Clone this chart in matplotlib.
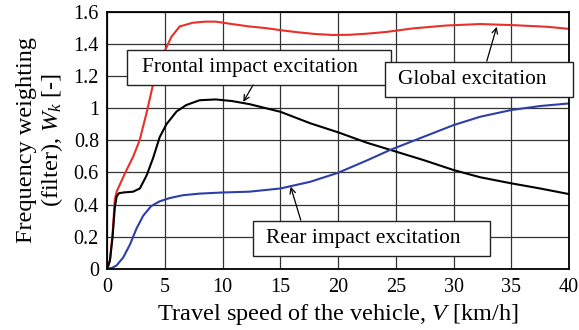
"""Frequency weighting W_k versus travel speed for three excitation cases."""

import matplotlib as mpl
import matplotlib.pyplot as plt
from matplotlib.patches import Rectangle

# values
global_v = [0, 0.23, 0.46, 0.65, 0.81, 1.5, 2.25, 2.8, 3.4, 3.97, 4.4, 5.0, 5.55,
            6.27, 7.4, 8.5, 9.4, 10.8, 12.3, 13.7, 15.2, 16.6, 18.0, 19.5, 21.0,
            22.5, 24.2, 26.5, 29.4, 32.3, 35.2, 38.1, 40]
global_w = [0, 0.054, 0.22, 0.43, 0.48, 0.59, 0.70, 0.80, 0.97, 1.15, 1.26, 1.36,
            1.445, 1.51, 1.533, 1.54, 1.54, 1.525, 1.51, 1.50, 1.485, 1.473, 1.463,
            1.457, 1.458, 1.465, 1.476, 1.498, 1.516, 1.525, 1.518, 1.508, 1.495]

frontal_v = [0, 0.23, 0.46, 0.65, 0.81, 1.0, 1.38, 2.24, 2.82, 3.4, 3.97, 4.54,
             5.12, 6.0, 6.84, 8.0, 9.4, 10.8, 12.3, 15.0, 17.6, 20.0, 22.5, 25.0,
             27.4, 30.0, 32.3, 35.0, 37.5, 40]
frontal_w = [0, 0.05, 0.2, 0.38, 0.45, 0.47, 0.475, 0.48, 0.50, 0.58, 0.69, 0.82,
             0.90, 0.98, 1.02, 1.05, 1.055, 1.045, 1.026, 0.978, 0.906, 0.85, 0.785,
             0.73, 0.677, 0.615, 0.57, 0.532, 0.50, 0.465]

rear_v = [0, 0.4, 0.8, 1.38, 1.96, 2.53, 3.11, 3.8, 4.54, 5.4, 6.55, 8.0, 10.0,
          12.3, 15.0, 17.6, 20.0, 22.5, 24.5, 27.4, 30.0, 32.3, 35.0, 37.5, 40]
rear_w = [0, 0.005, 0.02, 0.07, 0.15, 0.25, 0.33, 0.39, 0.42, 0.44, 0.458, 0.468,
          0.475, 0.48, 0.50, 0.542, 0.598, 0.675, 0.74, 0.822, 0.895, 0.947, 0.989,
          1.014, 1.03]

x_ticks = [0, 5, 10, 15, 20, 25, 30, 35, 40]
y_ticks = [0, 0.2, 0.4, 0.6, 0.8, 1.0, 1.2, 1.4, 1.6]
y_tick_labels = ["0", "0.2", "0.4", "0.6", "0.8", "1", "1.2", "1.4", "1.6"]

RED = "#e8302a"
BLUE = "#2c3fa8"
BOX_FONT = 15.4
LABEL_FONT = 17.5
TICK_FONT = 14.5

mpl.rcParams.update(
    {
        "font.family": "Liberation Serif",
        "mathtext.fontset": "custom",
        "mathtext.rm": "Liberation Serif",
        "mathtext.it": "Liberation Serif:italic",
        "font.size": BOX_FONT,
    }
)

fig = plt.figure(figsize=(5.79, 3.30), dpi=100)
ax = fig.add_axes([0.1853, 0.1858, 0.7974, 0.7778])

ax.plot(global_v, global_w, color=RED, linewidth=1.5, zorder=3)
ax.plot(frontal_v, frontal_w, color="black", linewidth=1.5, zorder=3)
ax.plot(rear_v, rear_w, color=BLUE, linewidth=1.5, zorder=3)

ax.set_xlim(0, 40)
ax.set_ylim(0, 1.6)
ax.set_xticks(x_ticks)
ax.set_yticks(y_ticks)
ax.set_yticklabels(y_tick_labels)
ax.tick_params(length=0, labelsize=TICK_FONT, pad=6)
ax.tick_params(axis="x", pad=7)
ax.grid(True, color="#333333", linewidth=0.9)
ax.set_axisbelow(True)
for spine in ax.spines.values():
    spine.set_linewidth(1.3)
    spine.set_zorder(5)

ax.set_xlabel("Travel speed of the vehicle, $V$ [km/h]", fontsize=LABEL_FONT,
              labelpad=3)
ax.set_ylabel("Frequency weighting\n(filter), $W_k$ [-]", fontsize=LABEL_FONT,
              labelpad=6, linespacing=1.1)

# label boxes (axes fraction), text start x
boxes = [
    ("Frontal impact excitation", 0.042, 0.7156, 0.6145, 0.852, 0.0752),
    ("Global excitation", 0.6015, 0.670, 1.008, 0.806, 0.630),
    ("Rear impact excitation", 0.315, 0.0495, 0.830, 0.187, 0.3437),
]
for text, x0, y0, x1, y1, tx in boxes:
    ax.add_patch(Rectangle((x0, y0), x1 - x0, y1 - y0, transform=ax.transAxes,
                           facecolor="white", edgecolor="#222222", linewidth=1.0,
                           zorder=6, clip_on=False))
    ax.text(tx, (y0 + y1) / 2, text, transform=ax.transAxes, fontsize=BOX_FONT,
            va="center", ha="left", zorder=7)

arrow = dict(arrowstyle="->", color="black", linewidth=0.9, shrinkA=0, shrinkB=0,
             mutation_scale=10)
ax.annotate("", xy=(11.78, 1.04), xytext=(12.63, 1.145), arrowprops=arrow, zorder=7)
ax.annotate("", xy=(33.74, 1.508), xytext=(32.88, 1.294), arrowprops=arrow, zorder=7)
ax.annotate("", xy=(15.89, 0.511), xytext=(16.76, 0.303), arrowprops=arrow, zorder=7)

fig.savefig("out.png", dpi=100)
